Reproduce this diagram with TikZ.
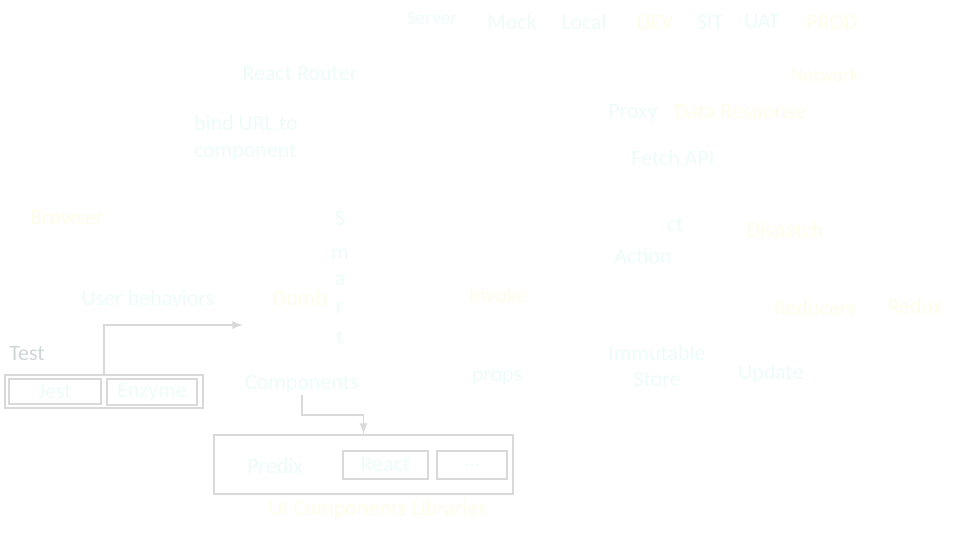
\documentclass[tikz,border=0pt]{standalone}
\usepackage{fontspec}
\setmainfont{Carlito}
\usepackage{tikz}
\usetikzlibrary{positioning}
\usetikzlibrary{arrows}

\definecolor{palecyan}{RGB}{238,252,249}
\definecolor{paleyellow}{RGB}{253,253,234}
\definecolor{boxgray}{RGB}{217,217,217}
\definecolor{testgray}{RGB}{206,214,214}

\tikzset{
  lbl/.style={font=\fontsize{12.5}{15}\selectfont, text=palecyan, inner sep=1pt},
  lbly/.style={lbl, text=paleyellow},
  frame/.style={rectangle, draw=boxgray, line width=1.1pt, inner sep=0pt},
  conn/.style={draw=boxgray, line width=1.1pt, -latex}
}

\begin{document}
\begin{tikzpicture}[x=0.02cm,y=-0.02cm]
   \useasboundingbox (0,0) rectangle (953,533);
   % environments
   \draw (432,18) node[lbl, font=\fontsize{11}{13}\selectfont] (server) {Server};
   \draw (512,22) node[lbl] (mock) {Mock};
   \draw (584,22) node[lbl] (local) {Local};
   \draw (655,22) node[lbly] (dev) {DEV};
   \draw (710,22) node[lbl] (sit) {SIT};
   \draw (762,22) node[lbl] (uat) {UAT};
   \draw (832,22) node[lbly] (prod) {PROD};
   % routing and network
   \draw (300,74) node[lbl] (router) {React Router};
   \draw (192,138) node[lbl, anchor=west, align=left] (bind) {bind URL to\\component};
   \draw (825,75) node[lbly, font=\fontsize{11}{13}\selectfont] (network) {Network};
   \draw (633,113) node[lbl] (proxy) {Proxy};
   \draw (740,113) node[lbly] (response) {Data Response};
   \draw (673,158) node[lbl] (fetch) {Fetch API};
   % browser side
   \draw (67,218) node[lbly] (browser) {Browser};
   \draw (340,218) node[lbl] (s) {S};
   \draw (340,254) node[lbl] (m) {m};
   \draw (340,280) node[lbl] (a) {a};
   \draw (340,308) node[lbl] (r) {r};
   \draw (340,338) node[lbl] (t) {t};
   \draw (148,298) node[lbl] (user) {User behaviors};
   \draw (300,298) node[lbly] (dumb) {Dumb};
   \draw (498,295) node[lbly] (invoke) {Invoke};
   \draw (675,225) node[lbl] (ct) {ct};
   \draw (643,256) node[lbl] (action) {Action};
   \draw (785,232) node[lbly] (dispatch) {Dispatch};
   \draw (815,308) node[lbly] (reducers) {Reducers};
   \draw (915,306) node[lbly] (redux) {Redux};
   \draw (657,366) node[lbl, align=center] (store) {Immutable\\Store};
   \draw (771,374) node[lbl] (update) {Update};
   \draw (497,378) node[lbl] (props) {props};
   \draw (302,384) node[lbl] (comp) {Components};
   % test
   \draw (27,354) node[lbl, text=testgray] (test) {Test};
   \draw (104,391.5) node[frame, minimum width=3.96cm, minimum height=0.66cm] (testbox) {};
   \draw (55,391.5) node[frame, lbl, minimum width=1.84cm, minimum height=0.5cm] (jest) {Jest};
   \draw (152,392) node[frame, lbl, minimum width=1.8cm, minimum height=0.52cm] (enzyme) {Enzyme};
   % ui libraries
   \draw (363.5,464.5) node[frame, minimum width=5.98cm, minimum height=1.18cm] (uibox) {};
   \draw (275,466) node[lbl] (predix) {Predix};
   \draw (385.5,465) node[frame, lbl, minimum width=1.7cm, minimum height=0.56cm] (react) {React};
   \draw (472,465) node[frame, lbl, minimum width=1.4cm, minimum height=0.56cm] (more) {...};
   \draw (378,510) node[lbly] (uilabel) {UI Components Libraries};
   % connectors
   \coordinate (tip) at (243,325);
   \coordinate (knee) at (302,415);
   \draw[conn] (testbox.north) |- (tip);
   \draw[conn] (comp.south) -- (knee) -| (uibox.north);
\end{tikzpicture}
\end{document}
